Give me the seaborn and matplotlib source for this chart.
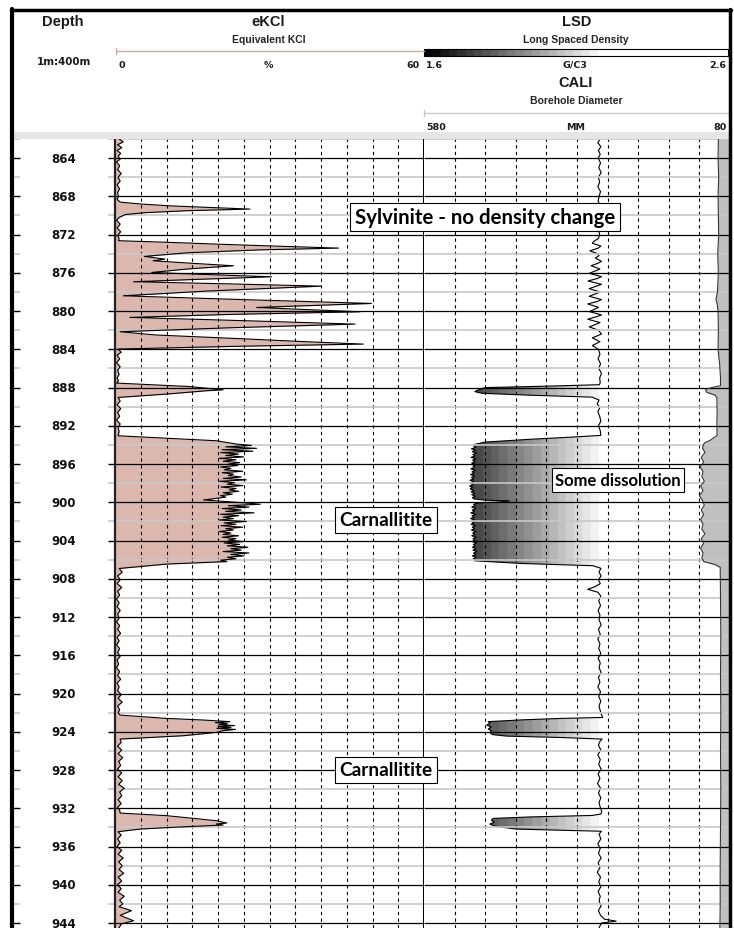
import numpy as np
import pandas as pd
import matplotlib
matplotlib.use("Agg")
import matplotlib.pyplot as plt
from matplotlib.patches import Rectangle
import seaborn as sns

sns.set_style("white")
plt.rcParams["font.family"] = ["Liberation Sans", "DejaVu Sans"]

W, H = 734, 929
TOP, BOT = 862.0, 944.52

depth_ticks = list(range(864, 945, 4))
half_ticks = list(range(862, 945, 4))
ekcl_grid = [5, 10, 15, 20, 25, 30, 35, 40, 45, 50, 55]
cali_grid = [530, 480, 430, 380, 330, 280, 230, 180, 130]

# eKCl (%) against depth (m)
ekcl = [
    (862.0, 0.8), (862.3, 1.6), (862.6, 0.5), (862.9, 1.3), (863.2, 0.4), (863.5, 1.1),
    (863.8, 0.6), (864.1, 1.0), (864.4, 0.3), (864.8, 0.9), (865.2, 0.5), (865.6, 1.2),
    (866.0, 0.6), (866.4, 1.0), (866.8, 0.4), (867.2, 0.9), (867.6, 0.5), (868.0, 0.7),
    (868.3, 0.4), (868.6, 1.0), (868.8, 5.0), (869.0, 11.0), (869.33, 26.2), (869.5, 14.0),
    (869.7, 6.0), (869.9, 2.0), (870.2, 0.8), (870.5, 0.3), (870.9, 1.0), (871.3, 0.4),
    (871.7, 1.1), (872.1, 0.5), (872.4, 0.8), (872.64, 0.7), (872.8, 10.0), (873.0, 20.0),
    (873.2, 31.0), (873.41, 43.4), (873.6, 28.0), (873.9, 14.0), (874.28, 5.7), (874.56, 9.7),
    (874.74, 7.4), (875.0, 15.0), (875.26, 23.0), (875.6, 14.0), (875.96, 7.1), (876.2, 19.0),
    (876.41, 30.4), (876.7, 15.0), (876.93, 3.6), (877.15, 22.0), (877.39, 40.1), (877.9, 18.0),
    (878.4, 1.6), (878.8, 25.0), (879.2, 49.8), (879.62, 27.5), (880.07, 47.6), (880.35, 22.0),
    (880.66, 2.9), (881.0, 25.0), (881.36, 46.6), (881.75, 22.0), (882.16, 1.0), (882.5, 8.0),
    (882.9, 25.0), (883.2, 37.0), (883.45, 48.2), (883.7, 22.0), (883.97, 0.6),
    (884.3, 1.2), (884.6, 0.4), (885.0, 0.9), (885.4, 0.3), (885.8, 1.0), (886.2, 0.5),
    (886.6, 0.8), (887.0, 0.4), (887.3, 0.7),
    (887.53, 0.3), (887.88, 14.2), (888.23, 21.0), (888.33, 17.8), (888.68, 10.0), (889.03, 0.6),
    (889.4, 1.0), (889.8, 0.4), (890.2, 1.1), (890.6, 0.5), (891.0, 0.9), (891.4, 0.3),
    (891.8, 1.0), (892.2, 0.6), (892.6, 0.8),
    (893.04, 0.6), (893.3, 10.0), (893.56, 19.7), (893.91, 23.6),
    (894.05, 26.5), (894.2, 21.5), (894.35, 27.5), (894.5, 20.8), (894.65, 26.8), (894.8, 20.5),
    (894.95, 24.0), (895.1, 21.5), (895.25, 25.0), (895.4, 20.2), (895.55, 23.5), (895.7, 21.0),
    (895.85, 24.2), (896.0, 22.0), (896.15, 23.8), (896.3, 20.5), (896.45, 22.5), (896.6, 21.2),
    (896.75, 24.8), (896.9, 20.8), (897.05, 23.0), (897.2, 22.0), (897.35, 24.5), (897.5, 21.0),
    (897.65, 25.5), (897.8, 20.3), (897.95, 23.2), (898.1, 21.8), (898.25, 24.8), (898.4, 20.6),
    (898.55, 23.5), (898.7, 22.2), (898.85, 24.0), (899.0, 21.0), (899.15, 22.8), (899.3, 20.5),
    (899.45, 21.5), (899.6, 19.5), (899.75, 17.2), (899.9, 21.0), (900.05, 25.0), (900.2, 28.2),
    (900.35, 22.0), (900.5, 26.0), (900.65, 20.8), (900.8, 24.5), (900.95, 21.5), (901.1, 27.0),
    (901.25, 20.5), (901.4, 24.0), (901.55, 21.0), (901.7, 23.0), (901.85, 20.3), (902.0, 25.5),
    (902.15, 21.2), (902.3, 23.5), (902.45, 20.6), (902.6, 24.8), (902.75, 21.5), (902.9, 23.0),
    (903.05, 20.2), (903.2, 22.5), (903.35, 21.0), (903.5, 24.0), (903.65, 20.8), (903.8, 23.5),
    (903.95, 22.0), (904.1, 25.0), (904.25, 21.2), (904.4, 24.2), (904.55, 21.8), (904.7, 25.8),
    (904.85, 22.5), (905.0, 24.5), (905.15, 21.0), (905.3, 26.0), (905.45, 22.5), (905.6, 25.0),
    (905.75, 21.8), (905.9, 23.5), (906.05, 20.5), (906.2, 21.7), (906.46, 10.0), (906.92, 0.8),
    (907.3, 1.4), (907.7, 0.5), (908.1, 1.0), (908.5, 0.4), (908.9, 1.3), (909.3, 0.5),
    (909.7, 0.9), (910.1, 0.3), (910.5, 0.8), (910.9, 0.4), (911.3, 1.0), (911.7, 0.5),
    (912.1, 0.8), (912.5, 0.3), (912.9, 0.9), (913.3, 0.5), (913.7, 1.1), (914.1, 0.4),
    (914.5, 0.8), (914.9, 0.3), (915.3, 0.9), (915.7, 0.5), (916.1, 1.0), (916.5, 0.4),
    (916.9, 0.7), (917.3, 0.3), (917.7, 0.9), (918.1, 0.5), (918.5, 1.1), (918.9, 0.4),
    (919.3, 0.8), (919.7, 0.5), (920.1, 1.2), (920.5, 0.6), (920.9, 1.4), (921.3, 0.5),
    (921.7, 0.9), (922.0, 0.6),
    (922.25, 1.0), (922.6, 10.0), (922.77, 17.2), (922.94, 22.3), (923.05, 19.5), (923.15, 21.8),
    (923.25, 20.2), (923.35, 23.2), (923.45, 20.0), (923.55, 22.5), (923.65, 19.8), (923.75, 23.4),
    (923.88, 21.0), (924.06, 19.7), (924.41, 13.3), (924.76, 1.0),
    (925.1, 1.2), (925.5, 0.5), (925.9, 1.3), (926.3, 0.6), (926.7, 1.5), (927.1, 0.7),
    (927.5, 1.1), (927.9, 0.5), (928.3, 1.3), (928.7, 0.6), (929.1, 1.4), (929.5, 0.7),
    (929.9, 1.8), (930.3, 0.9), (930.7, 1.3), (931.1, 0.6), (931.5, 1.2), (931.9, 0.5),
    (932.2, 0.9),
    (932.5, 1.0), (932.77, 10.0), (933.3, 19.7), (933.54, 21.7), (933.64, 19.7), (933.75, 21.0),
    (933.99, 11.3), (934.17, 4.9), (934.45, 0.6),
    (934.8, 1.2), (935.2, 0.5), (935.6, 1.0), (936.0, 0.4), (936.4, 1.3), (936.8, 0.6),
    (937.2, 1.6), (937.6, 0.7), (938.0, 1.4), (938.4, 0.8), (938.8, 1.7), (939.2, 0.6),
    (939.6, 1.3), (940.0, 0.5), (940.4, 1.2), (940.8, 0.6), (941.2, 1.8), (941.6, 0.9),
    (942.0, 1.5), (942.3, 0.8), (942.7, 3.2), (943.2, 1.0), (943.76, 3.6), (944.1, 1.2),
    (944.5, 0.8),
]

# LSD (g/cc) against depth (m)
lsd = [
    (862.0, 2.175), (862.4, 2.168), (862.8, 2.178), (863.2, 2.170), (863.6, 2.176), (864.0, 2.169),
    (864.5, 2.177), (865.0, 2.171), (865.5, 2.179), (866.0, 2.170), (866.5, 2.174), (867.0, 2.168),
    (867.5, 2.177), (868.0, 2.172), (868.5, 2.169), (869.0, 2.176), (869.5, 2.170), (870.0, 2.175),
    (870.5, 2.168), (871.0, 2.176), (871.5, 2.171), (872.0, 2.174),
    (872.4, 2.170), (872.7, 2.155), (872.9, 2.150), (873.2, 2.178), (873.4, 2.170), (873.7, 2.142),
    (874.0, 2.168), (874.2, 2.172), (874.45, 2.160), (874.8, 2.180), (875.0, 2.168), (875.25, 2.146),
    (875.6, 2.175), (875.8, 2.160), (876.05, 2.140), (876.4, 2.180), (876.6, 2.165), (876.85, 2.136),
    (877.2, 2.180), (877.4, 2.162), (877.65, 2.140), (878.0, 2.175), (878.2, 2.160), (878.45, 2.140),
    (878.8, 2.180), (879.0, 2.165), (879.25, 2.135), (879.6, 2.170), (879.8, 2.158), (880.05, 2.140),
    (880.4, 2.180), (880.6, 2.162), (880.85, 2.135), (881.2, 2.175), (881.4, 2.160), (881.65, 2.140),
    (882.0, 2.170), (882.4, 2.180), (882.8, 2.150), (883.2, 2.175), (883.6, 2.150), (884.0, 2.170),
    (884.5, 2.175), (885.0, 2.169), (885.5, 2.177), (886.0, 2.171), (886.5, 2.180), (887.0, 2.174),
    (887.5, 2.176), (887.7, 2.173),
    (887.85, 2.000), (888.0, 1.800), (888.2, 1.780), (888.42, 1.766), (888.6, 1.790), (888.8, 1.950),
    (889.0, 2.150), (889.3, 2.172), (889.7, 2.166), (890.1, 2.175), (890.5, 2.168), (891.0, 2.174),
    (891.5, 2.178), (892.0, 2.170), (892.5, 2.176), (893.0, 2.178),
    (893.15, 2.100), (893.4, 1.950), (893.7, 1.800), (893.95, 1.765),
    (894.1, 1.762), (894.25, 1.770), (894.4, 1.755), (894.55, 1.768), (894.7, 1.758), (894.85, 1.772),
    (895.0, 1.760), (895.15, 1.766), (895.3, 1.754), (895.45, 1.770), (895.6, 1.759), (895.75, 1.767),
    (895.9, 1.756), (896.05, 1.771), (896.2, 1.760), (896.35, 1.765), (896.5, 1.753), (896.65, 1.768),
    (896.8, 1.757), (896.95, 1.764), (897.1, 1.752), (897.25, 1.766), (897.4, 1.755), (897.55, 1.762),
    (897.7, 1.750), (897.85, 1.764), (898.0, 1.752), (898.15, 1.760), (898.3, 1.749), (898.45, 1.758),
    (898.6, 1.751), (898.75, 1.762), (898.9, 1.754), (899.05, 1.766), (899.2, 1.756), (899.35, 1.768),
    (899.5, 1.758), (899.65, 1.764), (899.78, 1.800), (899.85, 1.880), (899.95, 1.860), (900.05, 1.780),
    (900.2, 1.762), (900.35, 1.768), (900.5, 1.756), (900.65, 1.770), (900.8, 1.758), (900.95, 1.765),
    (901.1, 1.753), (901.25, 1.769), (901.4, 1.757), (901.55, 1.764), (901.7, 1.752), (901.85, 1.767),
    (902.0, 1.756), (902.15, 1.763), (902.3, 1.754), (902.45, 1.768), (902.6, 1.758), (902.75, 1.765),
    (902.9, 1.755), (903.05, 1.770), (903.2, 1.759), (903.35, 1.766), (903.5, 1.756), (903.65, 1.771),
    (903.8, 1.760), (903.95, 1.767), (904.1, 1.757), (904.25, 1.772), (904.4, 1.761), (904.55, 1.768),
    (904.7, 1.758), (904.85, 1.770), (905.0, 1.760), (905.15, 1.774), (905.3, 1.762), (905.45, 1.769),
    (905.6, 1.758), (905.75, 1.771), (905.9, 1.761), (906.0, 1.768), (906.11, 1.765),
    (906.39, 1.913), (906.63, 2.152), (906.9, 2.178),
    (907.3, 2.172), (907.7, 2.179), (908.1, 2.170), (908.5, 2.176), (908.8, 2.160), (909.1, 2.135),
    (909.4, 2.168), (909.8, 2.178), (910.3, 2.171), (910.8, 2.177), (911.3, 2.169), (911.8, 2.175),
    (912.3, 2.172), (912.8, 2.179), (913.3, 2.170), (913.8, 2.176), (914.3, 2.168), (914.8, 2.175),
    (915.3, 2.171), (915.8, 2.178), (916.3, 2.169), (916.8, 2.176), (917.3, 2.172), (917.8, 2.179),
    (918.3, 2.170), (918.8, 2.175), (919.3, 2.168), (919.8, 2.177), (920.3, 2.171), (920.8, 2.178),
    (921.3, 2.172), (921.8, 2.176), (922.2, 2.180),
    (922.5, 2.184), (922.6, 2.050), (922.75, 1.920), (922.94, 1.810), (923.1, 1.815), (923.3, 1.805),
    (923.5, 1.820), (923.7, 1.810), (923.9, 1.820), (924.1, 1.815), (924.3, 1.825), (924.45, 1.870),
    (924.6, 2.050), (924.76, 2.182), (925.0, 2.175),
    (925.4, 2.170), (925.9, 2.178), (926.4, 2.168), (926.9, 2.176), (927.4, 2.171), (927.9, 2.179),
    (928.4, 2.169), (928.9, 2.175), (929.4, 2.167), (929.9, 2.177), (930.4, 2.170), (930.9, 2.178),
    (931.4, 2.172), (931.9, 2.176), (932.3, 2.181), (932.6, 2.178),
    (932.75, 2.150), (932.9, 1.950), (933.06, 1.826), (933.25, 1.820), (933.45, 1.830), (933.65, 1.815),
    (933.85, 1.830), (934.0, 1.860), (934.17, 1.900), (934.3, 2.050), (934.4, 2.180),
    (934.7, 2.172), (935.2, 2.178), (935.7, 2.168), (936.2, 2.176), (936.7, 2.170), (937.2, 2.179),
    (937.7, 2.169), (938.2, 2.175), (938.7, 2.166), (939.2, 2.177), (939.7, 2.171), (940.2, 2.178),
    (940.7, 2.169), (941.2, 2.176), (941.7, 2.172), (942.2, 2.179), (942.7, 2.170), (943.2, 2.177),
    (943.6, 2.190), (943.8, 2.228), (944.0, 2.180), (944.5, 2.172),
]

# CALI (mm) against depth (m)
cali = [
    (862.0, 99.0), (864.0, 99.5), (866.0, 98.5), (868.0, 99.5), (870.0, 99.0), (872.0, 98.5),
    (874.0, 100.0), (876.0, 99.0), (878.0, 100.5), (878.8, 103.0), (879.2, 101.0), (880.0, 99.5),
    (882.0, 99.0), (884.0, 99.5), (885.5, 97.0), (887.0, 95.5), (887.8, 95.5), (888.0, 110.0),
    (888.2, 120.0), (888.5, 118.0), (888.8, 104.0), (889.1, 101.5), (890.5, 101.0), (892.0, 101.5),
    (893.0, 101.0), (893.5, 112.0), (893.8, 122.0), (894.3, 125.0), (894.8, 121.0), (895.3, 127.0),
    (895.8, 123.0), (896.3, 129.0), (896.8, 124.0), (897.3, 126.0), (897.8, 122.0), (898.3, 128.0),
    (898.8, 124.0), (899.3, 130.0), (899.8, 125.0), (900.3, 122.0), (900.8, 127.0), (901.3, 123.0),
    (901.8, 128.0), (902.3, 124.0), (902.8, 126.0), (903.3, 121.0), (903.8, 127.0), (904.3, 123.0),
    (904.8, 128.0), (905.3, 124.0), (905.8, 126.0), (906.2, 123.0), (906.5, 105.0), (906.8, 96.0),
    (910.0, 95.5), (914.0, 95.0), (918.0, 95.5), (922.0, 95.0), (926.0, 95.5), (930.0, 95.0),
    (934.0, 95.5), (938.0, 96.0), (942.0, 96.0), (944.5, 96.5),
]

df_k = pd.DataFrame(ekcl, columns=["depth", "pct"])
df_l = pd.DataFrame(lsd, columns=["depth", "rho"])
df_c = pd.DataFrame(cali, columns=["depth", "mm"])


def frac(x0, y0, x1, y1):
    return [x0 / W, 1 - y1 / H, (x1 - x0) / W, (y1 - y0) / H]


fig = plt.figure(figsize=(W / 100, H / 100), dpi=100)
fig.patch.set_facecolor("white")

ax_d = fig.add_axes(frac(12, 140, 115, 929))
ax_k = fig.add_axes(frac(115, 140, 424, 929))
ax_l = fig.add_axes(frac(424, 140, 730, 929))
ax_c = ax_l.twiny()
ax_o = fig.add_axes([0, 0, 1, 1])

# grey shades for the density fill, black at 1.6 to white at 2.2
gray_steps = plt.get_cmap("gray", 22)
wide = ["DejaVu Sans"]

# ---- depth track
ax_d.set_xlim(0, 1)
ax_d.set_ylim(BOT, TOP)
ax_d.axis("off")
ax_d.hlines(depth_ticks, 0, 0.075, color="black", lw=1, transform=ax_d.get_yaxis_transform())
ax_d.hlines(depth_ticks, 0.93, 1, color="black", lw=1, transform=ax_d.get_yaxis_transform())
ax_d.hlines(half_ticks, 0, 0.075, color="#c8c8c8", lw=1.2, transform=ax_d.get_yaxis_transform())
ax_d.hlines(half_ticks, 0.93, 1, color="#c8c8c8", lw=1.2, transform=ax_d.get_yaxis_transform())
for d in depth_ticks:
    ax_d.text(0.5, d, str(d), ha="center", va="center", fontsize=8.5, family=wide,
              fontweight="bold", color="#111111")

# ---- eKCl track
ax_k.fill_betweenx(df_k["depth"], 0, df_k["pct"], color="#dbb7ae", lw=0, zorder=1)
for g in ekcl_grid:
    ax_k.axvline(g, color="black", lw=0.8, ls=(0, (3, 3)), zorder=2)
ax_k.hlines(half_ticks, 0, 60, color="#c8c8c8", lw=1.2, zorder=2)
ax_k.hlines(depth_ticks, 0, 60, color="black", lw=0.9, zorder=2)
sns.lineplot(data=df_k, x="pct", y="depth", orient="y", estimator=None, errorbar=None,
             color="black", lw=0.8, ax=ax_k, zorder=3)
ax_k.set_xlim(0, 60)
ax_k.set_ylim(BOT, TOP)
ax_k.set_xticks([])
ax_k.set_yticks([])
ax_k.set_xlabel("")
ax_k.set_ylabel("")
for s in ["top", "bottom"]:
    ax_k.spines[s].set_visible(False)
ax_k.spines["left"].set_linewidth(1.6)
ax_k.spines["right"].set_linewidth(2.2)
ax_k.spines["left"].set_color("#222222")
ax_k.spines["right"].set_color("black")

# ---- LSD track with shaded fill
band = ax_l.fill_betweenx(df_l["depth"], df_l["rho"], 2.6, color="none", lw=0)
shade = ax_l.imshow(np.linspace(1.6, 2.6, 400)[None, :], extent=[1.6, 2.6, BOT, TOP],
                    aspect="auto", cmap=gray_steps, vmin=1.6, vmax=2.2, zorder=1)
shade.set_clip_path(band.get_paths()[0], transform=ax_l.transData)
sns.lineplot(data=df_l, x="rho", y="depth", orient="y", estimator=None, errorbar=None,
             color="black", lw=0.8, ax=ax_l, zorder=3)
ax_l.set_xlim(1.6, 2.6)
ax_l.set_ylim(BOT, TOP)
ax_l.set_xticks([])
ax_l.set_yticks([])
ax_l.set_xlabel("")
ax_l.set_ylabel("")
for s in ax_l.spines.values():
    s.set_visible(False)

# ---- CALI on the same track
ax_c.fill_betweenx(df_c["depth"], df_c["mm"], 80, color="#c0c0c0", lw=0, zorder=1)
for g in cali_grid:
    ax_c.axvline(g, color="black", lw=0.8, ls=(0, (3, 3)), zorder=2)
ax_c.hlines(half_ticks, 580, 80, color="#c8c8c8", lw=1.2, zorder=2)
ax_c.hlines(depth_ticks, 580, 80, color="black", lw=0.9, zorder=2)
sns.lineplot(data=df_c, x="mm", y="depth", orient="y", estimator=None, errorbar=None,
             color="#333333", lw=0.8, ax=ax_c, zorder=3)
ax_c.set_xlim(580, 80)
ax_c.set_ylim(BOT, TOP)
ax_c.set_xticks([])
ax_c.set_yticks([])
ax_c.set_xlabel("")
ax_c.set_ylabel("")
for s in ax_c.spines.values():
    s.set_visible(False)

# ---- header and frame, in pixel coordinates
ax_o.patch.set_visible(False)
ax_o.axis("off")
ax_o.set_zorder(10)

bold = dict(fontweight="bold", ha="center", va="center", color="#1a1a1a")
small = dict(fontsize=6.8, family=wide, **bold)
sub = dict(fontsize=7.5, color="#262626", fontweight="bold", ha="center", va="center")

ax_o.text(63, 22, "Depth", fontsize=10.5, **bold)
ax_o.text(64, 62, "1m:400m", fontsize=7.4, family=wide, **bold)

ax_o.text(268, 22, "eKCl", fontsize=10.5, **bold)
ax_o.text(269, 40, "Equivalent KCl", **sub)
ax_o.plot([116, 424], [52, 52], color="#d8aaa0", lw=1)
ax_o.plot([116, 116], [49, 55], color="#d8aaa0", lw=1)
ax_o.text(122, 65, "0", **small)
ax_o.text(268, 65, "%", **small)
ax_o.text(413, 65, "60", **small)

ax_o.text(577, 22, "LSD", fontsize=10.5, **bold)
ax_o.text(576, 40, "Long Spaced Density", **sub)
ax_o.imshow(np.linspace(1.6, 2.6, 400)[None, :], extent=[424, 728, 56.5, 49.5],
            aspect="auto", cmap=gray_steps, vmin=1.6, vmax=2.2)
ax_o.add_patch(Rectangle((424, 49.5), 304, 7, fill=False, ec="black", lw=0.8))
ax_o.text(434, 65, "1.6", **small)
ax_o.text(575, 65, "G/C3", **small)
ax_o.text(718, 65, "2.6", **small)

ax_o.text(576, 83, "CALI", fontsize=10.5, **bold)
ax_o.text(576, 101, "Borehole Diameter", **sub)
ax_o.plot([424, 728], [114, 114], color="#c8c8c8", lw=1)
ax_o.plot([424, 424], [111, 117], color="#c8c8c8", lw=1)
ax_o.text(436, 127, "580", **small)
ax_o.text(576, 127, "MM", **small)
ax_o.text(720, 127, "80", **small)

ax_o.add_patch(Rectangle((12, 133), 718, 7, fc="#e6e6e6", ec="none"))
ax_o.plot([12, 12], [10, 929], color="black", lw=3)
ax_o.plot([11, 731], [10.5, 10.5], color="black", lw=2.5)
ax_o.plot([730, 730], [10, 929], color="black", lw=2.5)

box = dict(boxstyle="square,pad=0.22", fc="white", ec="black", lw=0.8)
note = dict(family=["Lato", "DejaVu Sans"], fontweight="bold", ha="center", va="center",
            color="black", bbox=box)
ax_o.text(485, 218, "Sylvinite - no density change", fontsize=14.7, **note)
ax_o.text(386, 521, "Carnallitite", fontsize=13.7, **note)
ax_o.text(618, 481, "Some dissolution", fontsize=12, **note)
ax_o.text(386, 771, "Carnallitite", fontsize=13.7, **note)

ax_o.set_xlim(0, W)
ax_o.set_ylim(H, 0)

fig.savefig("out.png", dpi=100, facecolor="white")
